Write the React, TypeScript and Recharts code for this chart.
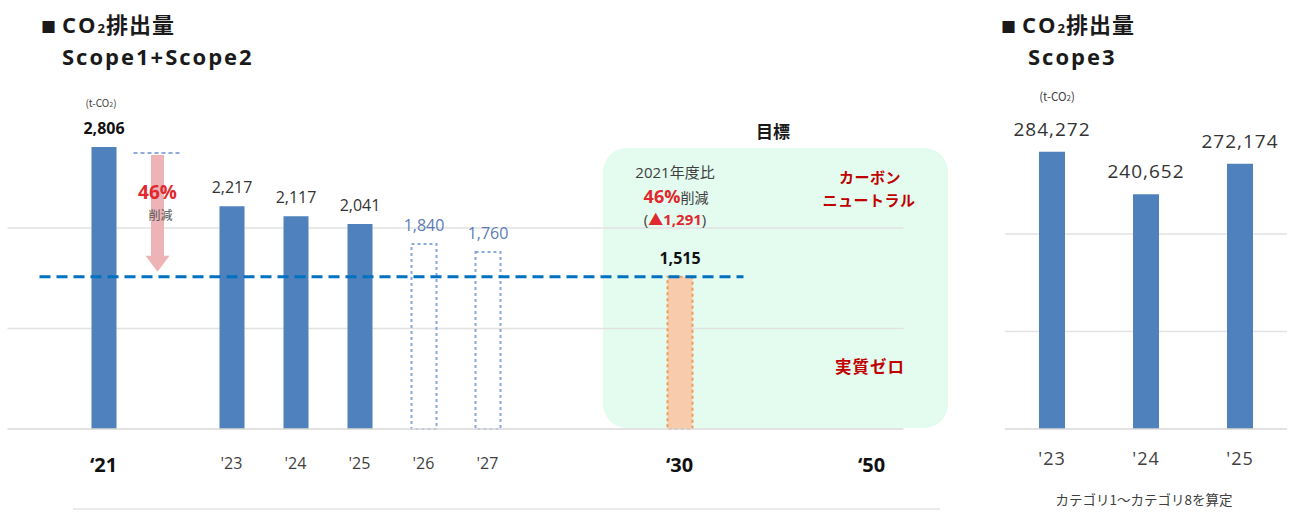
import React from "react";
import {
  ComposedChart,
  BarChart,
  Bar,
  Cell,
  XAxis,
  YAxis,
  CartesianGrid,
  ReferenceLine,
  LabelList,
} from "recharts";

const FONT = "'Open Sans', 'Noto Sans CJK JP', sans-serif";
const JP = "'Noto Sans CJK JP', 'Open Sans', sans-serif";

// ---- Scope1 + Scope2 (t-CO2) ----
// Slots on the category axis; the empty-label slots are spacers.
const scopeSlots = ["pad-l", "FY21", "FY22", "FY23", "FY24", "FY25", "FY26", "FY27", "FY28", "FY29", "FY30", "pad-r1", "pad-r2", "FY50"];
const scopeTickLabels = ["", "‘21", "", "'23", "'24", "'25", "'26", "'27", "", "", "‘30", "", "", "‘50"];
const scopeHeadlineTicks = ["‘21", "‘30", "‘50"];
const scopeActual = [null, 2806, null, 2217, 2117, 2041, null, null, null, null, null, null, null, null];
const scopePlan = [null, null, null, null, null, null, 1840, 1760, null, null, null, null, null, null];
const scopeTarget = [null, null, null, null, null, null, null, null, null, null, 1515, null, null, null];
const BASE_YEAR_VALUE = 2806;
const TARGET_VALUE = 1515;

// ---- Scope3 (t-CO2) ----
const scope3Years = ["'23", "'24", "'25"];
const scope3Values = [284272, 240652, 272174];

type Kind = "actual" | "plan" | "target" | "none";

const scopeData = scopeSlots.map((slot, i) => {
  const kind: Kind =
    scopeActual[i] != null ? "actual" : scopePlan[i] != null ? "plan" : scopeTarget[i] != null ? "target" : "none";
  const value = scopeActual[i] ?? scopePlan[i] ?? scopeTarget[i];
  return { slot, label: scopeTickLabels[i], value, kind };
});

const scope3Data = scope3Years.map((year, i) => ({ year, value: scope3Values[i] }));

const reduction = BASE_YEAR_VALUE - TARGET_VALUE;
const reductionPct = Math.round((reduction / BASE_YEAR_VALUE) * 100);
const fmt = (v: number) => v.toLocaleString("en-US");

const BLUE = "#4F81BD";

const cellStyle = (kind: Kind) => {
  if (kind === "plan") return { fill: "none", stroke: "#8AA8DA", strokeWidth: 2, strokeDasharray: "3 3" };
  if (kind === "target") return { fill: "#F8CBAD", stroke: "#EF9B55", strokeWidth: 2, strokeDasharray: "3 3" };
  return { fill: BLUE, stroke: "none", strokeWidth: 0, strokeDasharray: undefined };
};

const ScopeLabel = (props: any) => {
  const vb = props.viewBox ?? props;
  const x = vb.x ?? props.x;
  const y = vb.y ?? props.y;
  const width = vb.width ?? props.width;
  const value = props.value;
  if (value == null || x == null) return null;
  const entry = scopeData.find((d) => d.value === value);
  const kind = entry ? entry.kind : "actual";
  const headline = entry && scopeHeadlineTicks.includes(entry.label);
  const fill = headline ? "#111111" : kind === "plan" ? "#5B7DB3" : "#333333";
  return (
    <text
      x={x + width / 2}
      y={y - 19}
      textAnchor="middle"
      dominantBaseline="central"
      fontFamily={FONT}
      fontSize={16}
      fontWeight={headline ? 700 : 400}
      fill={fill}
    >
      {fmt(value)}
    </text>
  );
};

const ScopeTick = (props: any) => {
  const { x, y, payload } = props;
  const i = scopeSlots.indexOf(payload.value);
  const label = scopeTickLabels[i];
  if (!label) return <g />;
  const bold = scopeHeadlineTicks.includes(label);
  return (
    <text
      x={x}
      y={y}
      dy={bold ? 35 : 34}
      textAnchor="middle"
      dominantBaseline="central"
      fontFamily={FONT}
      fontSize={bold ? 20 : 16}
      fontWeight={bold ? 700 : 400}
      fill={bold ? "#111111" : "#404040"}
    >
      {label}
    </text>
  );
};

// Pink arrow showing the cut from the base year down to the 2030 target level.
const ReductionArrow = (props: any) => {
  const { x1, y1, y2 } = props;
  const cx = x1 - 10;
  const top = y1 + 8;
  const tip = y2 - 5;
  const headH = 16;
  const shaft = 6.5;
  const head = 12;
  const pts = [
    [cx - shaft, top],
    [cx + shaft, top],
    [cx + shaft, tip - headH],
    [cx + head, tip - headH],
    [cx, tip],
    [cx - head, tip - headH],
    [cx - shaft, tip - headH],
  ]
    .map((p) => p.join(","))
    .join(" ");
  return (
    <g>
      <line x1={cx - 24} x2={cx + 25} y1={y1 + 6} y2={y1 + 6} stroke="#8FAADC" strokeWidth={2} strokeDasharray="4 3" />
      <polygon points={pts} fill="#EDB3B6" />
      <text x={cx} y={y1 + 45} textAnchor="middle" dominantBaseline="central" fontFamily={FONT} fontSize={19} fontWeight={700} fill="#E0282E">
        {reductionPct}%
      </text>
      <text x={cx + 3} y={y1 + 68} textAnchor="middle" dominantBaseline="central" fontFamily={JP} fontSize={12} fill="#555555">
        削減
      </text>
    </g>
  );
};

const Scope3Label = (props: any) => {
  const vb = props.viewBox ?? props;
  const x = vb.x ?? props.x;
  const y = vb.y ?? props.y;
  const width = vb.width ?? props.width;
  if (props.value == null || x == null) return null;
  return (
    <text
      x={x + width / 2}
      y={y - 23}
      textAnchor="middle"
      dominantBaseline="central"
      fontFamily={FONT}
      fontSize={19}
      letterSpacing={1}
      fill="#333333"
    >
      {fmt(props.value)}
    </text>
  );
};

const Scope3Tick = (props: any) => {
  const { x, y, payload } = props;
  return (
    <text x={x} y={y} dy={29} textAnchor="middle" dominantBaseline="central" fontFamily={FONT} fontSize={18} letterSpacing={1} fill="#404040">
      {payload.value}
    </text>
  );
};

const Txt = ({ x, y, size, weight = 400, color = "#404040", family = JP, spacing = 0, children }: any) => (
  <div
    style={{
      position: "absolute",
      left: x,
      top: y,
      transform: "translate(-50%, -50%)",
      whiteSpace: "nowrap",
      fontSize: size,
      fontWeight: weight,
      color,
      fontFamily: family,
      letterSpacing: spacing,
      lineHeight: 1,
    }}
  >
    {children}
  </div>
);

const Title = ({ left, second, indent }: any) => (
  <div
    style={{
      position: "absolute",
      left,
      top: 9,
      fontFamily: FONT,
      fontWeight: 700,
      fontSize: 22,
      lineHeight: "28px",
      letterSpacing: 2,
      color: "#1A1A1A",
      whiteSpace: "nowrap",
    }}
  >
    <div>
      <span style={{ fontFamily: JP, fontSize: 15, letterSpacing: 6 }}>■</span>
      CO<span style={{ fontSize: 13, letterSpacing: 1 }}>2</span>
      <span style={{ fontFamily: JP, letterSpacing: 1 }}>排出量</span>
    </div>
    <div style={{ paddingLeft: indent }}>{second}</div>
  </div>
);

export default function App() {
  return (
    <div style={{ position: "absolute", left: 0, top: 0, width: 1290, height: 512, background: "#FFFFFF", overflow: "hidden" }}>
      {/* target panel background */}
      <div
        style={{
          position: "absolute",
          left: 603,
          top: 148,
          width: 345,
          height: 280,
          borderRadius: 24,
          background: "#E3FCEF",
        }}
      />

      <Title left={41} second="Scope1+Scope2" indent={21} />
      <Title left={1001} second="Scope3" indent={27} />

      <div style={{ position: "absolute", left: 0, top: 0 }}>
        <ComposedChart width={920} height={512} data={scopeData} margin={{ top: 127.5, right: 16.5, bottom: 43, left: 7.5 }}>
          <CartesianGrid vertical={false} horizontalValues={[1000, 2000]} stroke="#E2E2E2" strokeWidth={1.5} />
          <YAxis hide domain={[0, 3000]} ticks={[0, 1000, 2000, 3000]} />
          <XAxis
            dataKey="slot"
            interval={0}
            height={40}
            tickSize={0}
            tickMargin={0}
            tickLine={false}
            axisLine={{ stroke: "#D9D9D9", strokeWidth: 1.5 }}
            tick={<ScopeTick />}
          />
          <ReferenceLine
            segment={[
              { x: "FY22", y: BASE_YEAR_VALUE },
              { x: "FY22", y: TARGET_VALUE },
            ]}
            shape={(p: any) => <ReductionArrow {...p} />}
          />
          <Bar dataKey="value" barSize={25} isAnimationActive={false}>
            {scopeData.map((d) => {
              const s = cellStyle(d.kind);
              return <Cell key={d.slot} fill={s.fill} stroke={s.stroke} strokeWidth={s.strokeWidth} strokeDasharray={s.strokeDasharray} />;
            })}
            <LabelList dataKey="value" content={<ScopeLabel />} />
          </Bar>
          <ReferenceLine
            segment={[
              { x: "pad-l", y: TARGET_VALUE },
              { x: "pad-r1", y: TARGET_VALUE },
            ]}
            stroke="#0070C0"
            strokeWidth={3}
            strokeDasharray="11 6"
          />
        </ComposedChart>
      </div>

      <div style={{ position: "absolute", left: 990, top: 0 }}>
        <BarChart width={300} height={512} data={scope3Data} margin={{ top: 136.5, right: 3, bottom: 38, left: 15 }}>
          <CartesianGrid vertical={false} horizontalValues={[100000, 200000]} stroke="#E2E2E2" strokeWidth={1.5} />
          <YAxis hide domain={[0, 300000]} ticks={[0, 100000, 200000, 300000]} />
          <XAxis
            dataKey="year"
            interval={0}
            height={45}
            tickSize={0}
            tickMargin={0}
            tickLine={false}
            axisLine={{ stroke: "#D9D9D9", strokeWidth: 1.5 }}
            tick={<Scope3Tick />}
          />
          <Bar dataKey="value" fill={BLUE} barSize={26} isAnimationActive={false}>
            <LabelList dataKey="value" content={<Scope3Label />} />
          </Bar>
        </BarChart>
      </div>

      {/* units */}
      <Txt x={101} y={103} size={10} color="#404040">(t-CO<span style={{ fontSize: 7 }}>2</span>)</Txt>
      <Txt x={1057} y={97} size={11.5} color="#404040">(t-CO<span style={{ fontSize: 8 }}>2</span>)</Txt>

      {/* 2030 target panel */}
      <Txt x={773} y={130} size={17} weight={700} color="#1A1A1A">目標</Txt>
      <Txt x={675} y={172} size={15} color="#404040" family={FONT}>2021年度比</Txt>
      <div
        style={{
          position: "absolute",
          left: 676,
          top: 196,
          transform: "translate(-50%, -50%)",
          whiteSpace: "nowrap",
          lineHeight: "18px",
          height: 18,
          fontFamily: JP,
          fontSize: 14,
          color: "#404040",
        }}
      >
        <span style={{ fontFamily: FONT, fontSize: 18, fontWeight: 700, color: "#E0282E", lineHeight: "18px" }}>{reductionPct}%</span>削減
      </div>
      <Txt x={675} y={219} size={15} color="#404040" family={FONT}>
        (<span style={{ fontWeight: 700, color: "#E0282E" }}>▲{fmt(reduction)}</span>)
      </Txt>
      <Txt x={870} y={176} size={15} weight={700} color="#C00000" spacing={0.5}>カーボン</Txt>
      <Txt x={869} y={199} size={15} weight={700} color="#C00000" spacing={0.5}>ニュートラル</Txt>
      <Txt x={870} y={366} size={16.5} weight={700} color="#C00000" spacing={1}>実質ゼロ</Txt>

      <Txt x={1144} y={500} size={13.5} color="#404040">カテゴリ1～カテゴリ8を算定</Txt>

      <div style={{ position: "absolute", left: 73, top: 508, width: 867, height: 1.5, background: "#EBEBEB" }} />
    </div>
  );
}
